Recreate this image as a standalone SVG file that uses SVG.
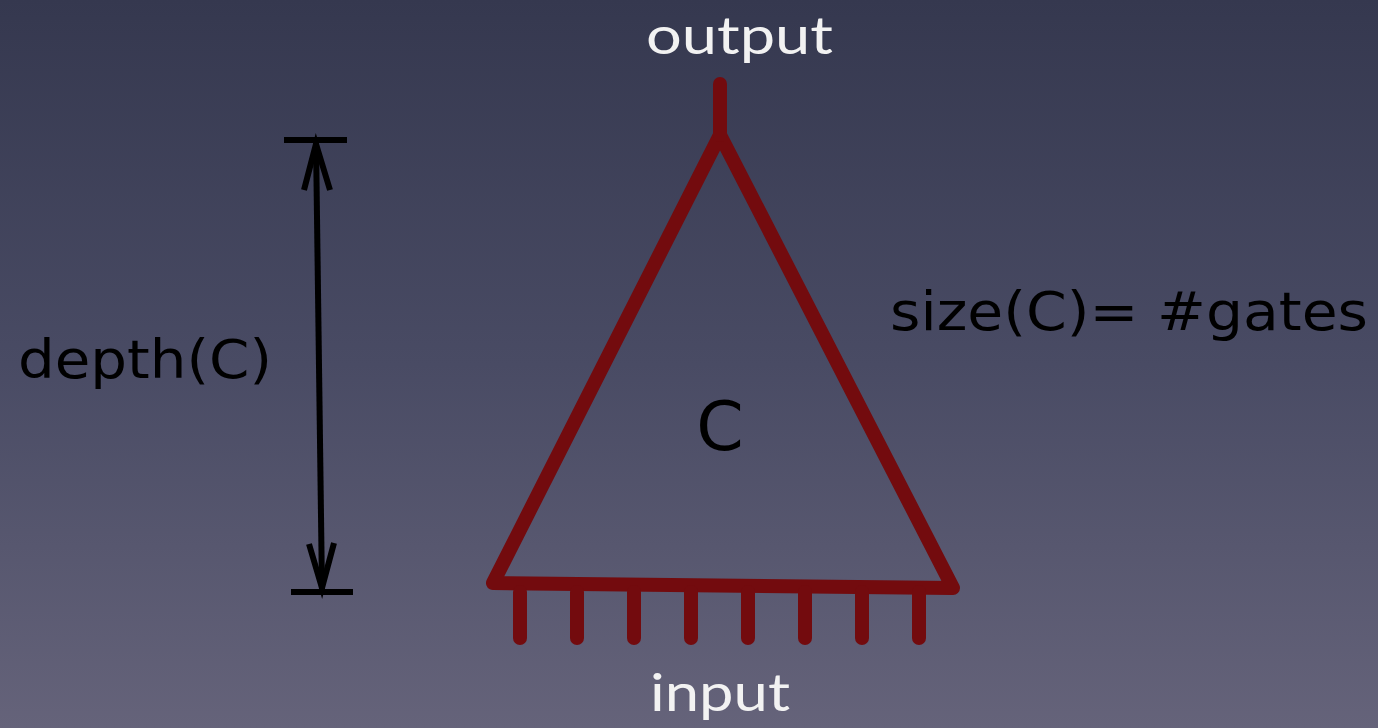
<svg xmlns="http://www.w3.org/2000/svg" width="1378" height="728" viewBox="0 0 1378 728">
<defs>
<linearGradient id="bg" x1="0" y1="0" x2="0" y2="1">
<stop offset="0" stop-color="#35384f"/>
<stop offset="0.5" stop-color="#494b64"/>
<stop offset="1" stop-color="#65637a"/>
</linearGradient>
<style>
.red{stroke:#730b0e;stroke-width:14;stroke-linecap:round;stroke-linejoin:round;fill:none}
.blk{stroke:#000;stroke-width:6;fill:none}
.lbl{font-family:"Lato","Open Sans",sans-serif;fill:#f2f2f2;font-size:52px}
.hand{font-family:"Comic Sans MS","DejaVu Sans",sans-serif;fill:#000}
</style>
</defs>
<rect width="1378" height="728" fill="url(#bg)"/>
<g id="circuit">
<polygon class="red" points="720,135 493,583 953,588"/>
<line class="red" x1="720" y1="84" x2="720" y2="135"/>
<g id="inputs">
<line class="red" x1="520" y1="592" x2="520" y2="638"/>
<line class="red" x1="577" y1="592" x2="577" y2="638"/>
<line class="red" x1="634" y1="592" x2="634" y2="638"/>
<line class="red" x1="691" y1="592" x2="691" y2="638"/>
<line class="red" x1="748" y1="592" x2="748" y2="638"/>
<line class="red" x1="805" y1="592" x2="805" y2="638"/>
<line class="red" x1="862" y1="592" x2="862" y2="638"/>
<line class="red" x1="919" y1="592" x2="919" y2="638"/>
</g>
<text class="hand" x="720" y="450" font-size="68" text-anchor="middle">C</text>
</g>
<g id="depth">
<line class="blk" x1="284" y1="140" x2="347" y2="140"/>
<line class="blk" x1="291" y1="592" x2="353" y2="592"/>
<line class="blk" x1="316" y1="142" x2="322" y2="590"/>
<polyline class="blk" points="304,190 316,144 330,190" stroke-linejoin="miter"/>
<polyline class="blk" points="309,544 322,588 334,543" stroke-linejoin="miter"/>
<text class="hand" x="18" y="378" font-size="54" textLength="254" lengthAdjust="spacingAndGlyphs">depth(C)</text>
</g>
<g id="size">
<text class="hand" x="890" y="330" font-size="54" textLength="478" lengthAdjust="spacingAndGlyphs">size(C)= #gates</text>
</g>
<text class="lbl" x="646" y="54" textLength="187" lengthAdjust="spacingAndGlyphs">output</text>
<text class="lbl" x="650" y="711" textLength="140" lengthAdjust="spacingAndGlyphs">input</text>
</svg>
